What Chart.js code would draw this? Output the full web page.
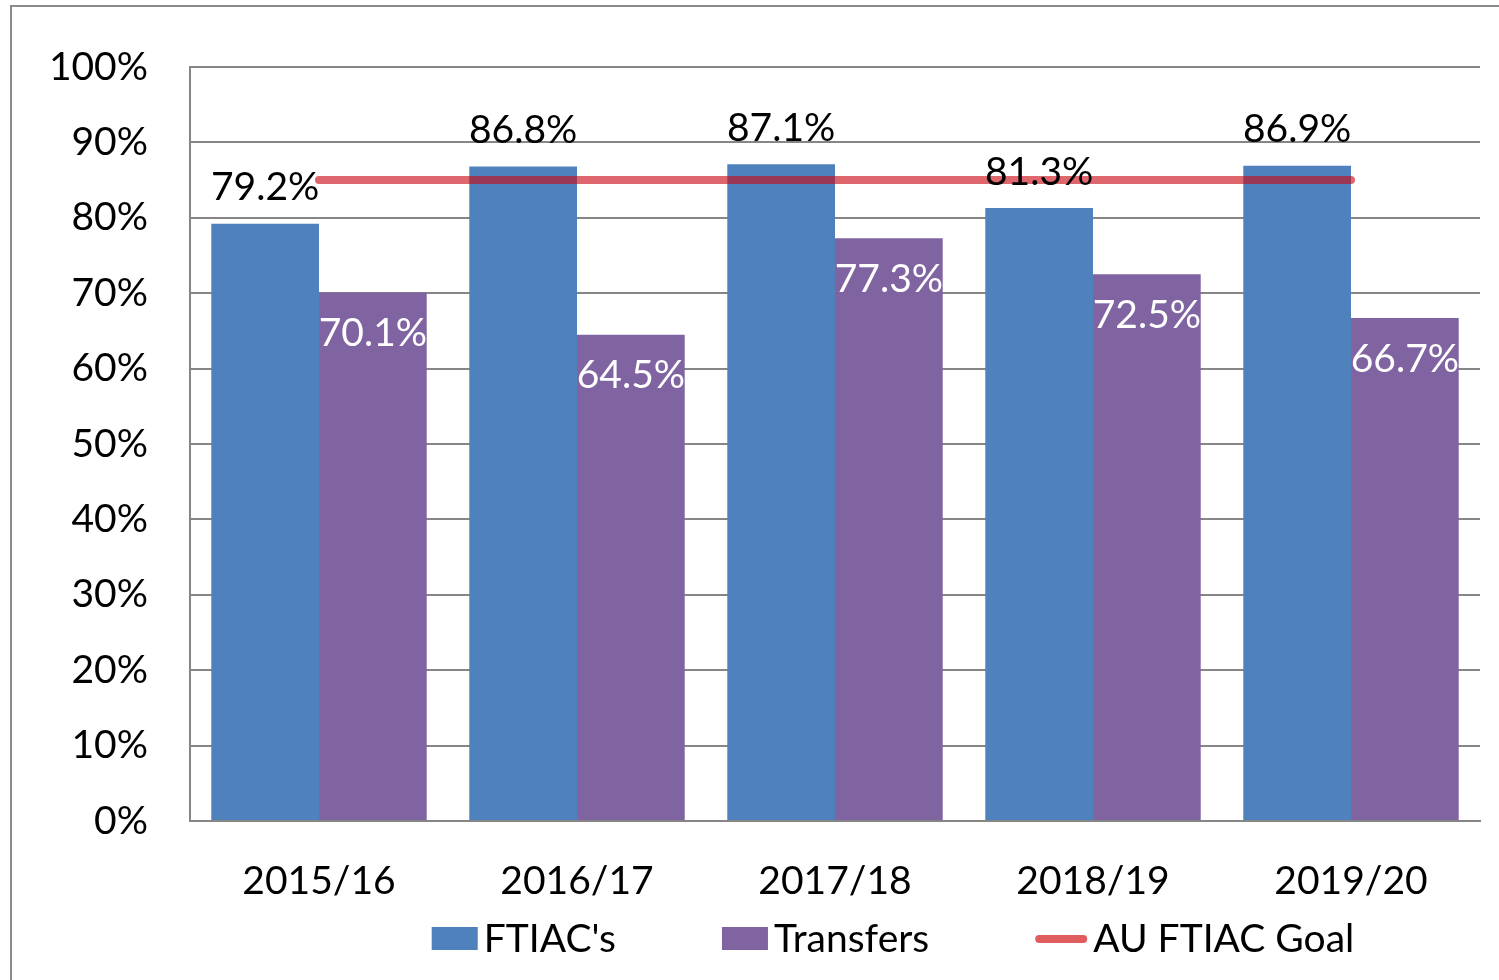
<!DOCTYPE html>
<html>
<head>
<meta charset="utf-8">
<script src="https://cdn.jsdelivr.net/npm/chart.js@4.4.1/dist/chart.umd.min.js"></script>
<style>
  html, body { margin: 0; padding: 0; background: #fff; }
  canvas { display: block; }
</style>
</head>
<body>
<canvas id="chart" width="1499" height="980"></canvas>
<script>
const years = ['2015/16', '2016/17', '2017/18', '2018/19', '2019/20']
const ftiac = [79.2, 86.8, 87.1, 81.3, 86.9]
const transfers = [70.1, 64.5, 77.3, 72.5, 66.7]
const goal = [85, 85, 85, 85, 85]

const FONT = 'Lato, "Open Sans", sans-serif'
const GRID = '#868686'

// value labels: black above the FTIAC bars, white inside the top of Transfers bars
const valueLabels = {
    id: 'valueLabels',
    afterDraw(chart) {
        const ctx = chart.ctx
        ctx.save()
        ctx.font = '39px ' + FONT
        ctx.textAlign = 'center'
        ctx.textBaseline = 'middle'
        chart.data.datasets.forEach((ds, i) => {
            if (ds.type === 'line') return
            const meta = chart.getDatasetMeta(i)
            meta.data.forEach((bar, j) => {
                const txt = ds.data[j].toFixed(1) + '%'
                if (ds.label === 'Transfers') {
                    ctx.fillStyle = '#fff'
                    ctx.fillText(txt, bar.x, bar.y + 41)
                } else {
                    ctx.fillStyle = '#000'
                    ctx.fillText(txt, bar.x, bar.y - 36)
                }
            })
        })
        ctx.restore()
    }
}

// legend + outer frame
const customLegend = {
    id: 'customLegend',
    beforeDraw(chart) {
        const ctx = chart.ctx
        ctx.save()
        ctx.fillStyle = '#fff'
        ctx.fillRect(0, 0, chart.width, chart.height)
        ctx.strokeStyle = '#8a8a8a'
        ctx.lineWidth = 2
        ctx.beginPath()
        ctx.moveTo(11, chart.height)
        ctx.lineTo(11, 6)
        ctx.lineTo(chart.width, 6)
        ctx.stroke()
        ctx.restore()
    },
    afterDraw(chart) {
        const ctx = chart.ctx
        const y = chart.chartArea.bottom + 118
        ctx.save()
        ctx.font = '39px ' + FONT
        ctx.textBaseline = 'middle'
        const items = chart.data.datasets.map(ds => ({
            ds: ds,
            mw: ds.type === 'line' ? 52 : 46,
            tw: ctx.measureText(ds.label).width
        }))
        const gap = 6, space = 106
        let total = 0
        items.forEach((it, k) => { total += it.mw + gap + it.tw + (k ? space : 0) })
        let x = 893 - total / 2
        items.forEach(it => {
            if (it.ds.type === 'line') {
                ctx.strokeStyle = '#df5d5d'
                ctx.lineWidth = 8
                ctx.lineCap = 'round'
                ctx.beginPath()
                ctx.moveTo(x + 4, y)
                ctx.lineTo(x + it.mw - 4, y)
                ctx.stroke()
            } else {
                ctx.fillStyle = it.ds.backgroundColor
                ctx.fillRect(x, y - 12, it.mw, 23)
            }
            x += it.mw + gap
            ctx.fillStyle = '#000'
            ctx.fillText(it.ds.label, x, y)
            x += it.tw + space
        })
        ctx.restore()
    }
}

new Chart(document.getElementById('chart'), {
    data: {
        labels: years,
        datasets: [{
            type: 'bar',
            label: "FTIAC's",
            data: ftiac,
            backgroundColor: '#4f81bd',
            barPercentage: 1,
            categoryPercentage: 0.835,
            order: 1
        }, {
            type: 'bar',
            label: 'Transfers',
            data: transfers,
            backgroundColor: '#8064a2',
            barPercentage: 1,
            categoryPercentage: 0.835,
            order: 1
        }, {
            type: 'line',
            label: 'AU FTIAC Goal',
            data: goal,
            borderColor: 'rgba(200,10,20,0.62)',
            borderWidth: 8,
            borderCapStyle: 'round',
            pointRadius: 0,
            order: 0
        }]
    },
    options: {
        responsive: false,
        animation: false,
        layout: {
            padding: { top: 67, right: 19, left: 0, bottom: 0 }
        },
        plugins: {
            legend: { display: false },
            tooltip: { enabled: false }
        },
        scales: {
            x: {
                grid: { display: false },
                border: { color: GRID, width: 2 },
                ticks: {
                    color: '#000',
                    font: { family: FONT, size: 39 },
                    padding: 29,
                    maxRotation: 0
                },
                afterFit(scale) { scale.height = 159 }
            },
            y: {
                min: 0,
                max: 100,
                border: { color: GRID, width: 2 },
                grid: { color: GRID, lineWidth: 2, drawTicks: false },
                ticks: {
                    stepSize: 10,
                    color: '#000',
                    padding: 42,
                    font: { family: FONT, size: 39 },
                    callback: v => v + '%'
                },
                afterFit(scale) { scale.width = 190 }
            }
        }
    },
    plugins: [customLegend, valueLabels]
})
</script>
</body>
</html>
